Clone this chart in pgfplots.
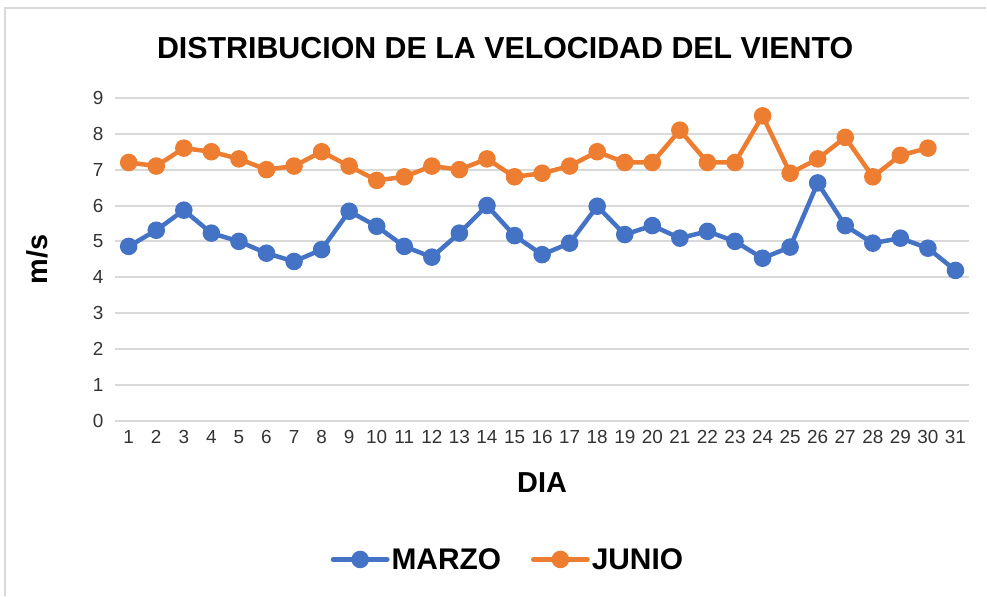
\documentclass[border=0pt]{standalone}
\usepackage{pgfplots}
\pgfplotsset{compat=1.18}
\usepackage{fontspec}
\setmainfont{Liberation Sans}

\definecolor{marzo}{HTML}{4472C4}
\definecolor{junio}{HTML}{ED7D31}
\definecolor{gridc}{HTML}{D9D9D9}

\pgfplotstableread{
dia v
1 4.86
2 5.31
3 5.87
4 5.23
5 5.00
6 4.67
7 4.44
8 4.77
9 5.84
10 5.42
11 4.86
12 4.56
13 5.23
14 6.00
15 5.16
16 4.63
17 4.95
18 5.98
19 5.19
20 5.44
21 5.09
22 5.28
23 5.00
24 4.53
25 4.84
26 6.63
27 5.44
28 4.95
29 5.09
30 4.81
31 4.19
}\marzo

\pgfplotstableread{
dia v
1 7.2
2 7.1
3 7.6
4 7.5
5 7.3
6 7.0
7 7.1
8 7.5
9 7.1
10 6.7
11 6.8
12 7.1
13 7.0
14 7.3
15 6.8
16 6.9
17 7.1
18 7.5
19 7.2
20 7.2
21 8.1
22 7.2
23 7.2
24 8.5
25 6.9
26 7.3
27 7.9
28 6.8
29 7.4
30 7.6
}\junio

\begin{document}
\begin{tikzpicture}
\begin{axis}[
  name=ax,
  scale only axis,
  width=855bp, height=323bp,
  xmin=0.5, xmax=31.5, ymin=0, ymax=9,
  xtick={1,...,31}, ytick={0,...,9},
  axis line style={draw=none},
  ymajorgrids, grid style={gridc, line width=2bp},
  tick style={draw=none},
  ticklabel style={font=\fontsize{19}{19}\selectfont, text=black!80},
  xticklabel style={yshift=-6bp},
  yticklabel style={xshift=-8bp},
  /pgf/number format/assume math mode=true,
  xlabel={\textbf{DIA}},
  ylabel={\textbf{m/s}},
  label style={font=\fontsize{29}{29}\selectfont},
  xlabel style={yshift=-22bp},
  ylabel style={yshift=38bp},
  title={\textbf{DISTRIBUCION DE LA VELOCIDAD DEL VIENTO}},
  title style={font=\fontsize{30.5}{30}\selectfont, yshift=30bp, xshift=-37bp},
  legend style={at={(0.46,-0.43)}, anchor=center, draw=none,
    font=\fontsize{30}{30}\selectfont\bfseries, legend columns=-1,
    /tikz/every even column/.append style={column sep=28bp}},
  legend image code/.code={
    \draw[#1, line width=5bp, line cap=round] (0cm,0cm) -- (1.9cm,0cm);
    \fill[#1] (0.95cm,0cm) circle (6.5bp);
  },
]
\addplot[marzo, line width=4.5bp, mark=*, mark size=6.5bp] table[x=dia, y=v] {\marzo};
\addlegendentry{MARZO}
\addplot[junio, line width=4.5bp, mark=*, mark size=6.5bp] table[x=dia, y=v] {\junio};
\addlegendentry{JUNIO}
\end{axis}
\draw[gridc, line width=1.5bp] ([xshift=-110bp,yshift=-175bp]ax.south west) -- ([xshift=-110bp,yshift=413bp]ax.south west) -- ([xshift=872bp,yshift=413bp]ax.south west);
\useasboundingbox ([xshift=-115bp,yshift=-175bp]ax.south west) rectangle ([xshift=872bp,yshift=421bp]ax.south west);
\end{tikzpicture}
\end{document}
